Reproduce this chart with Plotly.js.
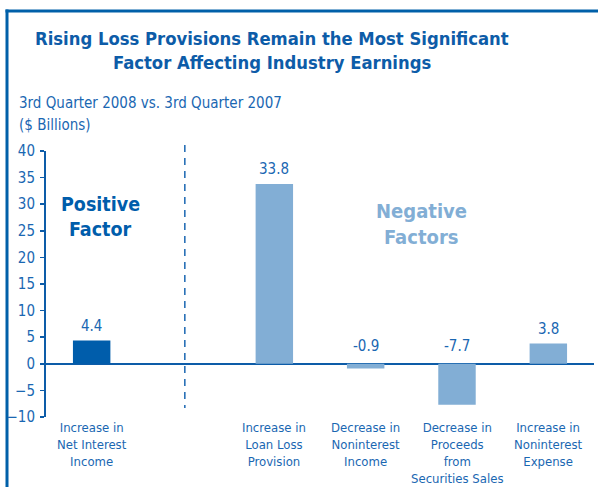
<!DOCTYPE html>
<html>
<head>
<meta charset="utf-8">
<script src="https://cdn.plot.ly/plotly-3.0.1.min.js"></script>
<style>
  html, body { margin: 0; padding: 0; background: #fff; }
  #chart { width: 598px; height: 487px; }
</style>
</head>
<body>
<div id="chart"></div>
<script>
// categories (slot 1 is left empty for the divider)
const positions = [0, 2, 3, 4, 5];
const categories = [
  "Increase in<br>Net Interest<br>Income",
  "Increase in<br>Loan Loss<br>Provision",
  "Decrease in<br>Noninterest<br>Income",
  "Decrease in<br>Proceeds<br>from<br>Securities Sales",
  "Increase in<br>Noninterest<br>Expense"
];
const values = [4.4, 33.8, -0.9, -7.7, 3.8];
const valueLabels = ["4.4", "33.8", "-0.9", "-7.7", "3.8"];
const barColors = ["#005dab", "#82aed5", "#82aed5", "#82aed5", "#82aed5"];
const yTicks = [-10, -5, 0, 5, 10, 15, 20, 25, 30, 35, 40];

const FONT = "'Liberation Sans Narrow', 'Arial Narrow', 'DejaVu Sans Condensed', sans-serif";
const BLUE = "#0d5ca8";
const TEXT = "#1a67b2";

// plot area in pixels, used to place the free text
const L = 46, R = 4, T = 151, B = 70, W = 598, H = 487;
const px = x => (x - L) / (W - L - R);
const py = y => (H - B - y) / (H - T - B);

const annotations = [];

// title, two lines
["Rising Loss Provisions Remain the Most Significant",
 "Factor Affecting Industry Earnings"].forEach((t, i) => {
  annotations.push({
    text: "<b>" + t + "</b>", xref: "paper", yref: "paper",
    x: px(272), y: py(38 + i * 24), xanchor: "center", yanchor: "middle",
    showarrow: false, font: { family: FONT, size: 18.3, color: BLUE }
  });
});

// subtitle
["3rd Quarter 2008 vs. 3rd Quarter 2007", "($ Billions)"].forEach((t, i) => {
  annotations.push({
    text: t, xref: "paper", yref: "paper",
    x: px(16.5), y: py(103 + i * 22.5), xanchor: "left", yanchor: "middle",
    showarrow: false, font: { family: FONT, size: 15, color: TEXT }
  });
});

// group labels
["Positive", "Factor"].forEach((t, i) => {
  annotations.push({
    text: "<b>" + t + "</b>", xref: "paper", yref: "paper",
    x: px(100.5), y: py(204 + i * 25), xanchor: "center", yanchor: "middle",
    showarrow: false, font: { family: FONT, size: 19.5, color: "#005dab" }
  });
});
["Negative", "Factors"].forEach((t, i) => {
  annotations.push({
    text: "<b>" + t + "</b>", xref: "paper", yref: "paper",
    x: px(421), y: py(210.5 + i * 26.5), xanchor: "center", yanchor: "middle",
    showarrow: false, font: { family: FONT, size: 20, color: "#82aed5" }
  });
});

// value labels above bars (or above the zero line for negatives)
values.forEach((v, i) => {
  annotations.push({
    text: valueLabels[i], x: positions[i], y: Math.max(v, 0),
    xref: "x", yref: "y", xanchor: "center", yanchor: "middle",
    yshift: v >= 0 ? 14.5 : 17.5, showarrow: false,
    font: { family: FONT, size: 15, color: TEXT }
  });
});

// category labels under the axis
categories.forEach((c, i) => {
  annotations.push({
    text: c, x: positions[i], y: py(418),
    xref: "x", yref: "paper", xanchor: "center", yanchor: "top",
    showarrow: false, font: { family: FONT, size: 13, color: TEXT }
  });
});

const data = [{
  type: "bar",
  x: positions,
  y: values,
  width: 0.41,
  marker: { color: barColors },
  hoverinfo: "none"
}];

const layout = {
  width: W, height: H,
  margin: { l: L, r: R, t: T, b: B },
  paper_bgcolor: "#fff", plot_bgcolor: "#fff",
  showlegend: false,
  font: { family: FONT, color: TEXT },
  xaxis: {
    range: [-0.5, 5.5], showticklabels: false, showgrid: false,
    zeroline: false, showline: false, ticks: "", fixedrange: true
  },
  yaxis: {
    range: [-10, 40], tickvals: yTicks, showgrid: false,
    zeroline: true, zerolinecolor: "#0d5ca8", zerolinewidth: 2,
    showline: true, linecolor: "#0d5ca8", linewidth: 2,
    ticks: "outside", ticklen: 4, tickwidth: 1.5, tickcolor: "#0d5ca8",
    tickfont: { family: FONT, size: 15, color: TEXT }, ticklabelstandoff: 2
  },
  shapes: [
    // divider between positive and negative factors
    { type: "line", xref: "x", yref: "paper", x0: 1.02, x1: 1.02,
      y0: py(145), y1: py(408),
      line: { color: "#1a67b2", width: 1.5, dash: "7px,6px" } },
    // frame, top and left
    { type: "line", xref: "paper", yref: "paper",
      x0: px(5.5), x1: px(600), y0: py(11), y1: py(11),
      line: { color: "#0060a9", width: 3 } },
    { type: "line", xref: "paper", yref: "paper",
      x0: px(7), x1: px(7), y0: py(9.5), y1: py(490),
      line: { color: "#0060a9", width: 3 } }
  ],
  annotations: annotations
};

Plotly.newPlot("chart", data, layout, { displayModeBar: false, staticPlot: true });
</script>
</body>
</html>
